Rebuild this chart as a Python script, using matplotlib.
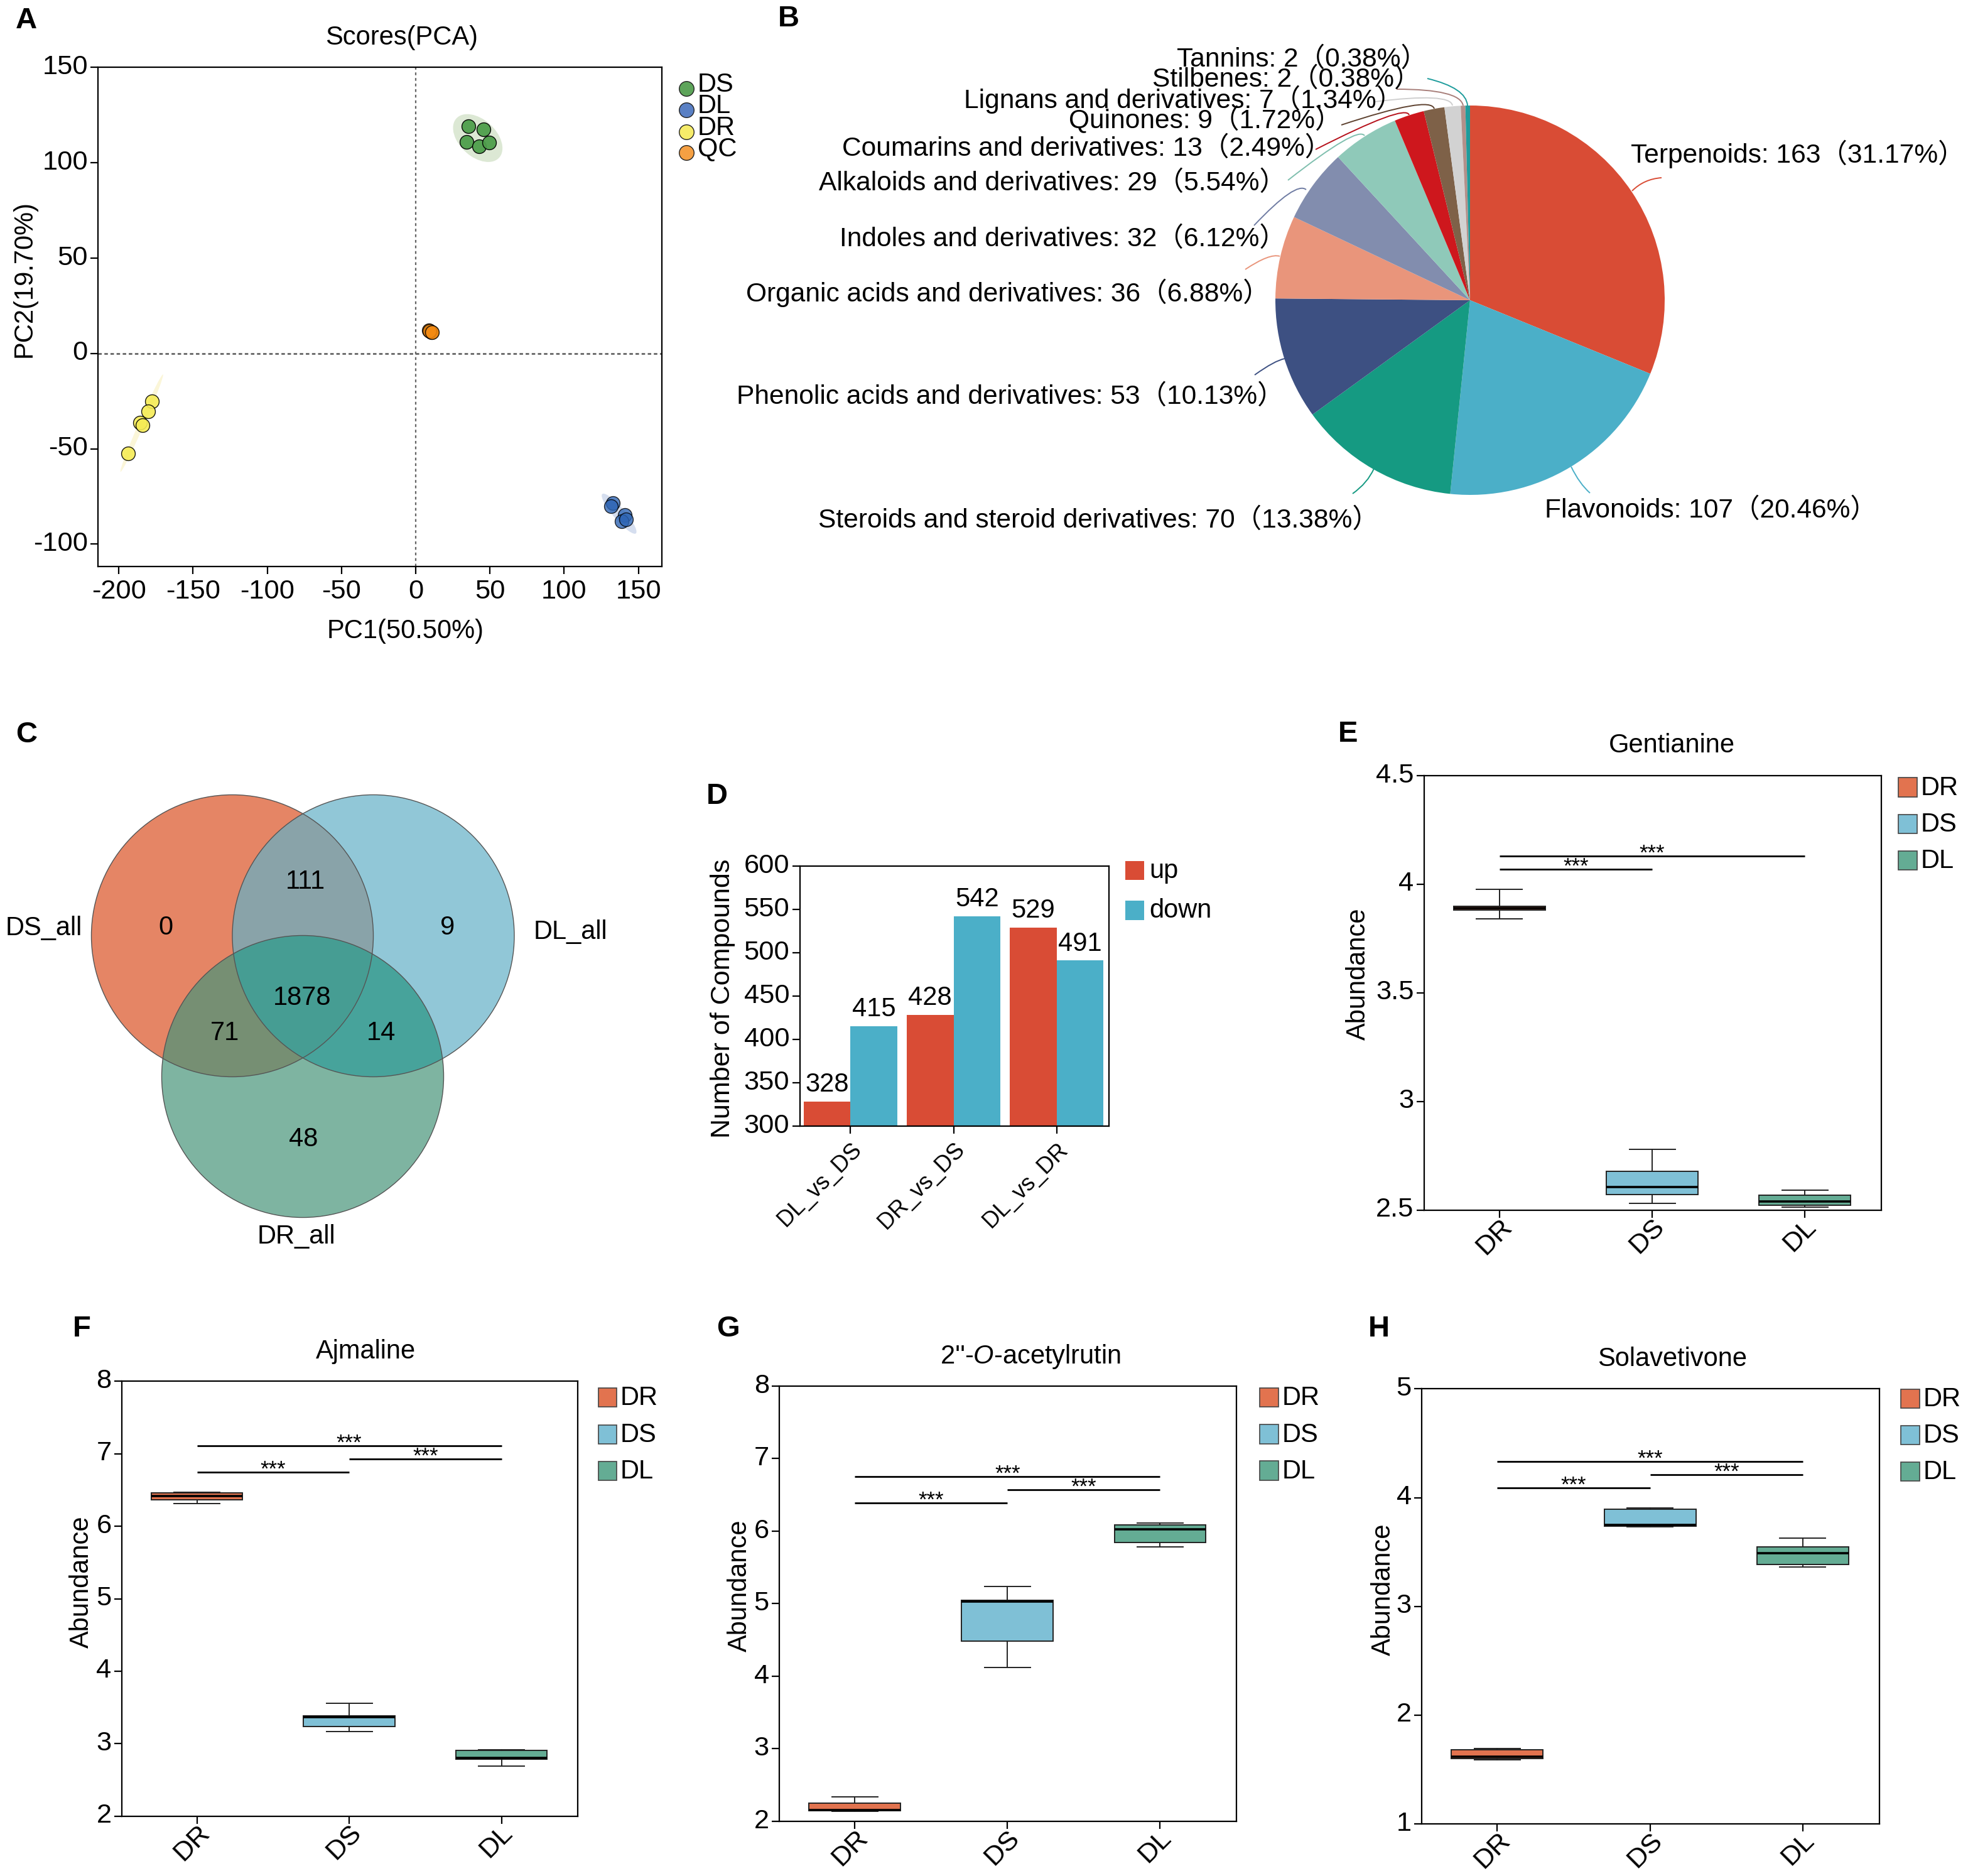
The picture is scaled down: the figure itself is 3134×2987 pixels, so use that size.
import numpy as np
import matplotlib
matplotlib.use('Agg')
import matplotlib.pyplot as plt
from matplotlib.patches import Circle, Ellipse, PathPatch, Rectangle
from matplotlib.path import Path
from matplotlib.transforms import ScaledTranslation

plt.rcParams['font.family'] = ['Liberation Sans', 'Noto Sans CJK SC']
plt.rcParams['axes.unicode_minus'] = False
plt.rcParams['mathtext.fontset'] = 'custom'
plt.rcParams['mathtext.rm'] = 'Liberation Sans'
plt.rcParams['mathtext.it'] = 'Liberation Sans:italic'

W, H = 3134, 2987
DPI = 200
FS = 15

# A: PCA scores
ds_x = [35.6, 45.8, 34.2, 42.8, 49.7]
ds_y = [119.2, 117.4, 110.9, 108.7, 110.6]
dl_x = [132.7, 131.4, 140.9, 138.6, 141.6]
dl_y = [-78.4, -80.2, -84.8, -88.1, -87.0]
dr_x = [-177.8, -180.1, -185.7, -184.1, -193.6]
dr_y = [-25.0, -30.5, -36.4, -37.7, -52.4]
qc_x = [9.0, 10.0, 10.5, 9.5, 11.0]
qc_y = [12.0, 11.5, 11.0, 11.8, 11.0]

# B: compound classes
class_names = ['Terpenoids', 'Flavonoids', 'Steroids and steroid derivatives',
               'Phenolic acids and derivatives', 'Organic acids and derivatives',
               'Indoles and derivatives', 'Alkaloids and derivatives',
               'Coumarins and derivatives', 'Quinones', 'Lignans and derivatives',
               'Stilbenes', 'Tannins']
class_counts = [163, 107, 70, 53, 36, 32, 29, 13, 9, 7, 2, 2]
class_pcts = ['31.17%', '20.46%', '13.38%', '10.13%', '6.88%', '6.12%',
              '5.54%', '2.49%', '1.72%', '1.34%', '0.38%', '0.38%']
class_colors = ['#D94C35', '#4BAFC8', '#159A82', '#3D5082', '#E9957B', '#828DAE',
                '#8FC9B9', '#CE171D', '#7E6148', '#D2D2D2', '#B3908A', '#1E9C9C']
leader_colors = ['#D94C35', '#4BAFC8', '#159A82', '#3D5082', '#E9957B', '#6F7CA3',
                 '#7FBFAE', '#B5101A', '#5E4230', '#CFCFCF', '#A87F7A', '#1E9C9C']
# label left edge and middle, in pixels
label_x = [2597, 2460, 1303, 1173, 1188, 1337, 1304, 1341, 1702, 1535, 1835, 1874]
label_y = [245, 813, 829, 632, 466, 381, 292, 237, 191, 158, 127, 95]
# leader lines: slice end, bend, label end
leaders = [
    [(2599, 304), (2618, 285), (2646, 283)],
    [(2502, 743), (2515, 770), (2532, 785)],
    [(2188, 746), (2178, 769), (2154, 786)],
    [(2046, 571), (2030, 574), (1998, 597)],
    [(2038, 408), (2022, 403), (1983, 429)],
    [(2080, 302), (2064, 288), (1997, 359)],
    [(2173, 216), (2162, 200), (2051, 287)],
    [(2244, 183), (2238, 165), (2095, 238)],
    [(2284, 173), (2278, 152), (2136, 199)],
    [(2313, 168), (2310, 147), (2189, 162)],
    [(2330, 168), (2325, 142), (2224, 142)],
    [(2337, 168), (2335, 140), (2273, 125)],
]

# C: venn
venn_sets = ['DS_all', 'DL_all', 'DR_all']
venn_counts = ['0', '111', '9', '1878', '71', '14', '48']

# D: up and down
groups = ['DL_vs_DS', 'DR_vs_DS', 'DL_vs_DR']
up = [328, 428, 529]
down = [415, 542, 491]

# E-H: box stats, order DR, DS, DL
samples = ['DR', 'DS', 'DL']
box_colors = ['#E2734F', '#7FC0D6', '#64AC94']

gent_lo = [3.84, 2.53, 2.515]
gent_q1 = [3.88, 2.573, 2.522]
gent_med = [3.89, 2.605, 2.541]
gent_q3 = [3.90, 2.678, 2.57]
gent_hi = [3.977, 2.779, 2.591]
gent_sig = [(0, 2, 4.13), (0, 1, 4.068)]

ajma_lo = [6.313, 3.169, 2.687]
ajma_q1 = [6.363, 3.239, 2.786]
ajma_med = [6.42, 3.363, 2.80]
ajma_q3 = [6.458, 3.383, 2.91]
ajma_hi = [6.468, 3.557, 2.92]
ajma_sig = [(0, 2, 7.11), (1, 2, 6.925), (0, 1, 6.746)]

acet_lo = [2.14, 4.119, 5.781]
acet_q1 = [2.144, 4.488, 5.846]
acet_med = [2.154, 5.03, 6.025]
acet_q3 = [2.249, 5.045, 6.085]
acet_hi = [2.338, 5.239, 6.109]
acet_sig = [(0, 2, 6.756), (1, 2, 6.572), (0, 1, 6.388)]

sola_lo = [1.587, 3.735, 3.36]
sola_q1 = [1.603, 3.737, 3.386]
sola_med = [1.62, 3.747, 3.492]
sola_q3 = [1.683, 3.896, 3.545]
sola_hi = [1.696, 3.903, 3.628]
sola_sig = [(0, 2, 4.33), (1, 2, 4.21), (0, 1, 4.09)]


def px_axes(left, right, top, bottom):
    return fig.add_axes([left / W, 1 - bottom / H, (right - left) / W, (bottom - top) / H])


def nudge(labels, dx_px, dy_px):
    # move tick labels by whole pixels, the reference sits them a bit off the ticks
    off = ScaledTranslation(dx_px / DPI, dy_px / DPI, fig.dpi_scale_trans)
    for lab in labels:
        lab.set_transform(lab.get_transform() + off)


def style_axes(ax):
    for s in ax.spines.values():
        s.set_linewidth(0.8)
    ax.tick_params(length=4.2, width=0.8, labelsize=15.6, pad=1.6)
    nudge(ax.get_yticklabels(), 0, 5)


def px_text(x, y, s, **kw):
    kw.setdefault('fontsize', FS)
    kw.setdefault('ha', 'center')
    kw.setdefault('va', 'center')
    return ov.text(x, y, s, **kw)


def square_legend(x0, x1, rows, labels, colors, edge='#444444'):
    for (t, b), lab, c in zip(rows, labels, colors):
        ov.add_patch(Rectangle((x0, t), x1 - x0, b - t, facecolor=c, edgecolor=edge, lw=0.6))
        px_text(x1 + 6, (t + b) / 2 + 1, lab, ha='left')


def box_panel(pos, ylim, yticks, yticklabels, lo, q1, med, q3, hi, sig):
    ax = px_axes(*pos)
    stats = []
    for i in range(3):
        stats.append({'whislo': lo[i], 'q1': q1[i], 'med': med[i], 'q3': q3[i], 'whishi': hi[i]})
    parts = ax.bxp(stats, positions=[0, 1, 2], widths=0.6, capwidths=0.3, showfliers=False,
                   patch_artist=True,
                   boxprops={'linewidth': 0.7, 'edgecolor': '#222222'},
                   whiskerprops={'linewidth': 0.7, 'color': '#222222'},
                   capprops={'linewidth': 0.7, 'color': '#222222'},
                   medianprops={'linewidth': 1.3, 'color': 'black', 'solid_capstyle': 'butt'})
    for b, c in zip(parts['boxes'], box_colors):
        b.set_facecolor(c)
    for a, b, y in sig:
        ax.plot([a, b], [y, y], color='black', lw=1.0, solid_capstyle='butt')
        ax.annotate('***', ((a + b) / 2, y), xytext=(0, -2), textcoords='offset points',
                    ha='center', va='baseline', fontsize=12.5)
    ax.set_xlim(-0.495, 2.5)
    ax.set_ylim(*ylim)
    ax.set_yticks(yticks)
    ax.set_yticklabels(yticklabels)
    ax.set_xticks([0, 1, 2])
    ax.set_xticklabels(samples, rotation=45, ha='center')
    style_axes(ax)
    nudge(ax.get_xticklabels(), -8, 10)
    return ax


fig = plt.figure(figsize=((W + 0.01) / DPI, (H + 0.01) / DPI), dpi=DPI)

# overlay in image pixels for panel letters, labels, legends
ov = fig.add_axes([0, 0, 1, 1], zorder=5)
ov.set_xlim(0, W)
ov.set_ylim(H, 0)
ov.axis('off')

for letter, x, y in [('A', 25, 33), ('B', 1239, 30), ('C', 25, 1170), ('D', 1125, 1268),
                     ('E', 2131, 1169), ('F', 116, 2116), ('G', 1141, 2116), ('H', 2179, 2116)]:
    px_text(x, y, letter, ha='left', fontsize=17, fontweight='bold')

# panel A
ax = px_axes(156, 1054, 107.5, 902)
ax.add_patch(Ellipse((41.8, 113), 36, 21, angle=-28, facecolor='#DCE8D4', edgecolor='none'))
ax.add_patch(Ellipse((-184.5, -36.5), 58.5, 3.5, angle=60.7, facecolor='#FBF6D8', edgecolor='none'))
ax.add_patch(Ellipse((137, -84), 30.7, 7, angle=-41.6, facecolor='#D5DEEF', edgecolor='none'))
ax.axvline(0, color='#666666', lw=0.8, dashes=(2, 2))
ax.axhline(0, color='#666666', lw=1.0, dashes=(2, 1.5))
for xs, ys, c, a in [(ds_x, ds_y, '#4E9E4B', 0.95), (dl_x, dl_y, '#2F66B5', 0.8),
                     (dr_x, dr_y, '#F5EB55', 0.9), (qc_x, qc_y, '#F28A13', 0.85)]:
    ax.scatter(xs, ys, s=62, color=c, alpha=a, edgecolors='black', linewidths=0.5, zorder=3)
ax.set_xlim(-214, 165.8)
ax.set_ylim(-111.7, 150)
ax.set_xticks([-200, -150, -100, -50, 0, 50, 100, 150])
ax.set_yticks([-100, -50, 0, 50, 100, 150])
style_axes(ax)
ax.tick_params(axis='x', pad=3)
px_text(640, 60, 'Scores(PCA)')
px_text(646, 1005, 'PC1(50.50%)')
px_text(39, 444, 'PC2(19.70%)', rotation=90)
for name, c, yc, yt in [('DS', '#5DA45A', 141, 135), ('DL', '#5A80C4', 175, 169),
                        ('DR', '#F6EC6A', 210, 204), ('QC', '#F5A043', 243, 237)]:
    ov.scatter([1093], [yc], s=72, color=c, edgecolors='#222222', linewidths=0.5)
    px_text(1111, yt, name, ha='left')

# panel B
ax = px_axes(2341 - 310, 2341 + 310, 478 - 310, 478 + 310)
ax.pie(class_counts, colors=class_colors, startangle=90, counterclock=False, radius=1,
       wedgeprops={'linewidth': 0})
ax.set_xlim(-1, 1)
ax.set_ylim(-1, 1)
for name, n, p, x, y, c, pts in zip(class_names, class_counts, class_pcts, label_x, label_y,
                                    leader_colors, leaders):
    px_text(x, y, f'{name}: {n}（{p}）', ha='left', fontsize=15.3)
    ov.add_patch(PathPatch(Path(pts, [Path.MOVETO, Path.CURVE3, Path.CURVE3]),
                           facecolor='none', edgecolor=c, lw=0.7))

# panel C
for (cx, cy), c in [((370, 1490), '#DA5124'), ((594.5, 1490), '#62B0C7'), ((482, 1714), '#47947A')]:
    ov.add_patch(Circle((cx, cy), 224.5, facecolor=c, alpha=0.7, edgecolor='none'))
# the DL/DR overlap is more teal than plain alpha mixing gives
lens = Circle((594.5, 1490), 224.5, facecolor='#28A5A5', alpha=0.4, edgecolor='none')
ov.add_patch(lens)
lens.set_clip_path(Circle((482, 1714), 224.5, transform=ov.transData))
for (cx, cy) in [(370, 1490), (594.5, 1490), (482, 1714)]:
    ov.add_patch(Circle((cx, cy), 224.5, facecolor='none', edgecolor='#555555', lw=0.5))
for s, x, y in zip(venn_sets, [70, 908, 472], [1478, 1484, 1969]):
    px_text(x, y, s)
for s, x, y in zip(venn_counts, [264, 486, 713, 481, 358, 607, 483],
                   [1477, 1404, 1477, 1589, 1645, 1645, 1814]):
    px_text(x, y, s)

# panel D
ax = px_axes(1273.5, 1766, 1379, 1793)
xpos = np.arange(len(groups))
bar_w = 0.455
ax.bar(xpos - bar_w / 2, up, bar_w, color='#D94C35')
ax.bar(xpos + bar_w / 2, down, bar_w, color='#4BAFC8')
for i in xpos:
    ax.text(i - bar_w / 2, up[i] + 11.5, str(up[i]), ha='center', va='baseline', fontsize=15)
    ax.text(i + bar_w / 2, down[i] + 11.5, str(down[i]), ha='center', va='baseline', fontsize=15)
ax.set_xlim(-0.493, 2.507)
ax.set_ylim(300, 600)
ax.set_yticks([300, 350, 400, 450, 500, 550, 600])
ax.set_xticks(xpos)
ax.set_xticklabels(groups, rotation=45, ha='right', va='top', rotation_mode='anchor')
style_axes(ax)
ax.tick_params(axis='x', labelsize=13, pad=3)
px_text(1151, 1590, 'Number of Compounds', rotation=90, fontsize=15.5)
ov.add_patch(Rectangle((1792, 1371), 30, 30, facecolor='#D94C35', edgecolor='none'))
ov.add_patch(Rectangle((1792, 1434), 30, 31, facecolor='#4BAFC8', edgecolor='none'))
px_text(1830, 1387, 'up', ha='left')
px_text(1830, 1450, 'down', ha='left')

# panels E-H
box_panel((2267.5, 2995.8, 1235, 1926.8), (2.5, 4.5), [2.5, 3, 3.5, 4, 4.5],
          ['2.5', '3', '3.5', '4', '4.5'],
          gent_lo, gent_q1, gent_med, gent_q3, gent_hi, gent_sig)
px_text(2662.7, 1186.5, 'Gentianine')
px_text(2163, 1551, 'Abundance', rotation=90)
square_legend(3023, 3052.5, [(1238.5, 1269), (1297, 1327.5), (1355, 1385.5)], samples, box_colors)

box_panel((193.5, 920, 2199.4, 2891.7), (2, 8), [2, 3, 4, 5, 6, 7, 8],
          ['2', '3', '4', '5', '6', '7', '8'],
          ajma_lo, ajma_q1, ajma_med, ajma_q3, ajma_hi, ajma_sig)
px_text(582.6, 2152, 'Ajmaline')
px_text(130, 2519, 'Abundance', rotation=90)
square_legend(953, 982, [(2210, 2240), (2269, 2299), (2327, 2357)], samples, box_colors)

box_panel((1241, 1969, 2207, 2900), (2, 8), [2, 3, 4, 5, 6, 7, 8],
          ['2', '3', '4', '5', '6', '7', '8'],
          acet_lo, acet_q1, acet_med, acet_q3, acet_hi, acet_sig)
px_text(1641, 2159.5, "2''-$\\mathit{O}$-acetylrutin")
px_text(1178, 2525, 'Abundance', rotation=90)
square_legend(2006, 2036, [(2210, 2240), (2268, 2299), (2326, 2357)], samples, box_colors)

box_panel((2264, 2992.5, 2211.5, 2904), (1, 5), [1, 2, 3, 4, 5],
          ['1', '2', '3', '4', '5'],
          sola_lo, sola_q1, sola_med, sola_q3, sola_hi, sola_sig)
px_text(2662.7, 2163.5, 'Solavetivone')
px_text(2202.6, 2530.6, 'Abundance', rotation=90)
square_legend(3027, 3056.5, [(2212, 2242), (2270, 2300), (2328, 2358)], samples, box_colors)

fig.savefig('out.png', dpi=DPI, facecolor='white')
